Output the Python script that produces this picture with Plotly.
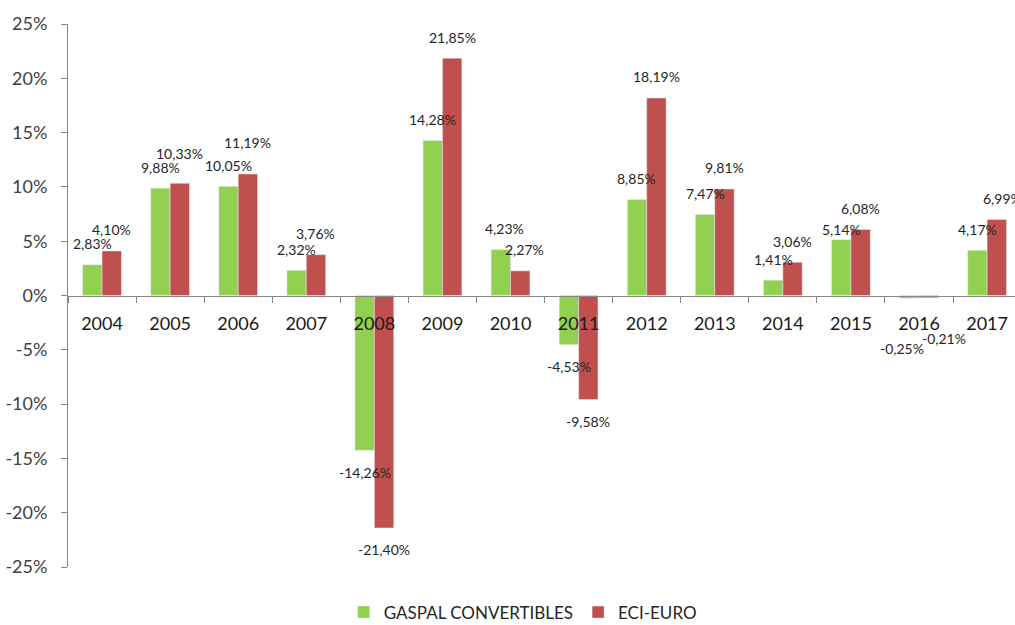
import plotly.graph_objects as go

years = ["2004", "2005", "2006", "2007", "2008", "2009", "2010", "2011", "2012", "2013", "2014", "2015", "2016", "2017"]
gaspal = [2.83, 9.88, 10.05, 2.32, -14.26, 14.28, 4.23, -4.53, 8.85, 7.47, 1.41, 5.14, -0.25, 4.17]
eci = [4.10, 10.33, 11.19, 3.76, -21.40, 21.85, 2.27, -9.58, 18.19, 9.81, 3.06, 6.08, -0.21, 6.99]
ytick_vals = [-25, -20, -15, -10, -5, 0, 5, 10, 15, 20, 25]
ytick_text = ["-25%", "-20%", "-15%", "-10%", "-5%", "0%", "5%", "10%", "15%", "20%", "25%"]

# style: manual label nudges (pixels) as in the original chart
label_nudge = {
    ("2005", 1): (0, 9), ("2006", 1): (0, 10),
    ("2010", 0): (4, 0), ("2010", 1): (4, 0),
    ("2015", 0): (0, -11),
    ("2016", 0): (-7, -28), ("2016", 1): (15, -19),
    ("2017", 1): (6, 0),
}

def fmt(v):
    return f"{v:.2f}%".replace(".", ",")

FONT = "Lato, 'Open Sans', sans-serif"
BARGAP = 0.43
half = (1 - BARGAP) / 4  # offset of each bar centre from category centre

fig = go.Figure()
fig.add_trace(go.Bar(x=years, y=gaspal, name="GASPAL CONVERTIBLES", marker=dict(color="#92D050")))
fig.add_trace(go.Bar(x=years, y=eci, name="ECI-EURO", marker=dict(color="#C0504D")))

annotations = []
for s, series in enumerate([gaspal, eci]):
    for i, (yr, v) in enumerate(zip(years, series)):
        dx, dy = label_nudge.get((yr, s), (0, 0))
        base = 21 if v >= 0 else -22
        annotations.append(dict(
            x=i + (-half if s == 0 else half), y=v, xref="x", yref="y",
            text=fmt(v), showarrow=False, xanchor="center", yanchor="middle",
            xshift=dx, yshift=base + dy,
            font=dict(size=14, color="#262626", family=FONT),
        ))

fig.update_layout(
    width=1015, height=625,
    margin=dict(l=68, r=0, t=24, b=58),
    paper_bgcolor="white", plot_bgcolor="white",
    barmode="group", bargap=BARGAP, bargroupgap=0,
    font=dict(family=FONT, color="#262626"),
    showlegend=True,
    legend=dict(orientation="h", x=0.515, xanchor="center", xref="container",
                y=0.02, yanchor="middle", yref="container",
                font=dict(size=17, color="#262626"), itemwidth=30),
    annotations=annotations,
    xaxis=dict(
        anchor="free", position=0.5, automargin=False,
        range=[-0.5, 13.41],
        showline=True, linecolor="#868686", linewidth=1,
        ticks="outside", tickson="boundaries", ticklen=6, tickcolor="#868686",
        tickfont=dict(size=18, color="#1a1a1a"), ticklabelstandoff=12,
        showgrid=False, zeroline=False,
    ),
    yaxis=dict(
        range=[-25, 25], tickvals=ytick_vals, ticktext=ytick_text, automargin=False,
        showline=True, linecolor="#868686", linewidth=1,
        ticks="outside", ticklen=6, tickcolor="#868686",
        tickfont=dict(size=18, color="#404040"), ticklabelstandoff=10,
        showgrid=False, zeroline=False,
    ),
)

fig.write_html("out.html", config={"displayModeBar": False},
               post_script="document.body.style.margin='0';document.body.style.overflow='hidden';")
